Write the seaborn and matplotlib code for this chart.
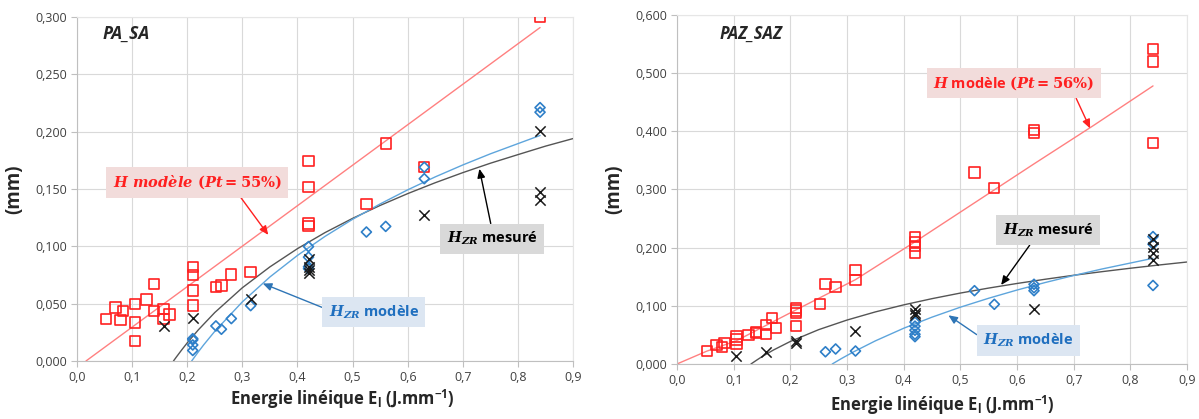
import numpy as np
import pandas as pd
import matplotlib
matplotlib.use("Agg")
import matplotlib.pyplot as plt
from matplotlib.ticker import FuncFormatter, MultipleLocator
import seaborn as sns

# ---- PA_SA (left) ----
pa_h_x = [0.0525, 0.07, 0.084, 0.079, 0.105, 0.105, 0.105, 0.126, 0.14, 0.14, 0.157, 0.157, 0.168,
          0.21, 0.21, 0.21, 0.21, 0.252, 0.262, 0.28, 0.315, 0.42, 0.42, 0.42, 0.42, 0.525, 0.56, 0.63, 0.84]
pa_h_y = [0.0365, 0.0466, 0.0437, 0.0358, 0.050, 0.0335, 0.0172, 0.0536, 0.0673, 0.0437, 0.0455, 0.0367, 0.0405,
          0.082, 0.0749, 0.0615, 0.0484, 0.0647, 0.0658, 0.0754, 0.0775, 0.1746, 0.152, 0.120, 0.118, 0.137, 0.1897, 0.169, 0.300]
pa_zrmod_x = [0.21, 0.21, 0.21, 0.21, 0.252, 0.262, 0.28, 0.315, 0.42, 0.42, 0.42, 0.42, 0.525, 0.56, 0.63, 0.63, 0.84, 0.84]
pa_zrmod_y = [0.0195, 0.0184, 0.0140, 0.0092, 0.0306, 0.0277, 0.0370, 0.0483, 0.0998, 0.0906, 0.0822, 0.0805,
              0.1125, 0.1174, 0.169, 0.159, 0.221, 0.217]
pa_zrmes_x = [0.157, 0.21, 0.315, 0.42, 0.42, 0.42, 0.42, 0.63, 0.84, 0.84, 0.84]
pa_zrmes_y = [0.0306, 0.0376, 0.0545, 0.089, 0.082, 0.079, 0.0767, 0.1276, 0.2004, 0.147, 0.1407]
# curves
pa_hline_x = [0.0163, 0.84]
pa_hline_y = [0.0, 0.2908]
pa_mesline_x = [0.175, 0.18, 0.19, 0.2, 0.22, 0.25, 0.3, 0.35, 0.4, 0.45, 0.5, 0.55, 0.6, 0.65, 0.7, 0.75, 0.8, 0.85, 0.9]
pa_mesline_y = [0.0, 0.0033, 0.0097, 0.0158, 0.0271, 0.0423, 0.0639, 0.0821, 0.098, 0.112, 0.1244, 0.1357, 0.146,
                0.1555, 0.1643, 0.1725, 0.180, 0.1874, 0.194]
pa_modline_x = [0.208, 0.21, 0.22, 0.23, 0.25, 0.3, 0.35, 0.4, 0.45, 0.5, 0.55, 0.6, 0.65, 0.7, 0.75, 0.84]
pa_modline_y = [0.0, 0.0013, 0.0079, 0.0142, 0.0259, 0.0516, 0.0733, 0.0921, 0.1087, 0.1236, 0.137, 0.1493,
                0.1606, 0.171, 0.1807, 0.1967]

# ---- PAZ_SAZ (right) ----
paz_h_x = [0.0525, 0.07, 0.079, 0.084, 0.105, 0.105, 0.105, 0.126, 0.14, 0.14, 0.157, 0.157, 0.168, 0.175,
           0.21, 0.21, 0.21, 0.21, 0.252, 0.262, 0.28, 0.315, 0.315, 0.42, 0.42, 0.42, 0.42,
           0.525, 0.56, 0.63, 0.63, 0.84, 0.84, 0.84]
paz_h_y = [0.022, 0.033, 0.029, 0.0355, 0.047, 0.042, 0.034, 0.050, 0.055, 0.053, 0.067, 0.052, 0.0796, 0.0624,
           0.0965, 0.092, 0.088, 0.065, 0.1026, 0.1375, 0.1324, 0.1616, 0.1444, 0.2178, 0.2103, 0.2029, 0.1913,
           0.329, 0.302, 0.402, 0.3966, 0.541, 0.520, 0.380]
paz_zrmod_x = [0.262, 0.28, 0.315, 0.42, 0.42, 0.42, 0.42, 0.42, 0.525, 0.56, 0.63, 0.63, 0.63, 0.84, 0.84, 0.84]
paz_zrmod_y = [0.021, 0.0258, 0.0223, 0.072, 0.065, 0.058, 0.051, 0.047, 0.126, 0.1026, 0.137, 0.131, 0.126,
               0.219, 0.206, 0.135]
paz_zrmes_x = [0.105, 0.157, 0.21, 0.21, 0.315, 0.42, 0.42, 0.42, 0.63, 0.84, 0.84, 0.84, 0.84]
paz_zrmes_y = [0.0143, 0.021, 0.0367, 0.039, 0.0567, 0.095, 0.0885, 0.085, 0.094, 0.214, 0.2017, 0.190, 0.179]
paz_hline_x = [0.0, 0.0525, 0.105, 0.21, 0.315, 0.42, 0.525, 0.63, 0.735, 0.84]
paz_hline_y = [0.0, 0.022, 0.040, 0.093, 0.145, 0.210, 0.277, 0.344, 0.410, 0.478]
paz_mesline_x = [0.1306, 0.14, 0.15, 0.17, 0.2, 0.25, 0.3, 0.35, 0.4, 0.45, 0.5, 0.55, 0.6, 0.65, 0.7, 0.75, 0.8, 0.85, 0.9]
paz_mesline_y = [0.0, 0.0062, 0.0126, 0.0239, 0.0387, 0.059, 0.0755, 0.0895, 0.1016, 0.1123, 0.1219, 0.1305,
                 0.1384, 0.1457, 0.1525, 0.1587, 0.1646, 0.1701, 0.1753]
paz_modline_x = [0.274, 0.29, 0.31, 0.35, 0.4, 0.45, 0.5, 0.55, 0.6, 0.65, 0.7, 0.75, 0.84]
paz_modline_y = [0.0, 0.0092, 0.020, 0.0397, 0.0614, 0.0805, 0.0976, 0.113, 0.1271, 0.1401, 0.1521, 0.1633, 0.1817]

RED = "#ff2020"
REDLINE = "#ff8080"
BLUE = "#2e7fc8"
BLUELINE = "#5ea5dc"
BLACK = "#1a1a1a"

sns.set_style("whitegrid", {"grid.color": "#d9d9d9", "axes.edgecolor": "#bfbfbf"})
plt.rcParams["font.family"] = ["Open Sans", "DejaVu Sans"]
plt.rcParams["mathtext.fontset"] = "custom"
plt.rcParams["mathtext.it"] = "DejaVu Serif:italic:bold"
plt.rcParams["mathtext.rm"] = "DejaVu Serif:bold"
plt.rcParams["mathtext.bf"] = "DejaVu Serif:bold"
plt.rcParams["mathtext.sf"] = "Open Sans:bold"

fig = plt.figure(figsize=(11.99, 4.19), dpi=100)
ax1 = fig.add_axes([0.0642, 0.1384, 0.4138, 0.821])
ax2 = fig.add_axes([0.5646, 0.1313, 0.4254, 0.833])


def draw_panel(ax, hx, hy, mx, my, ex, ey, hlx, hly, elx, ely, mlx, mly):
    sns.lineplot(x=hlx, y=hly, ax=ax, color=REDLINE, lw=1, sort=False, estimator=None)
    sns.lineplot(x=elx, y=ely, ax=ax, color="#555555", lw=1, sort=False, estimator=None)
    sns.lineplot(x=mlx, y=mly, ax=ax, color=BLUELINE, lw=1, sort=False, estimator=None)
    sns.scatterplot(x=hx, y=hy, ax=ax, marker="s", s=55, color=RED, facecolor="none",
                    edgecolor=RED, linewidth=1.2, zorder=3)
    sns.scatterplot(x=mx, y=my, ax=ax, marker="D", s=26, color=BLUE, facecolor="none",
                    edgecolor=BLUE, linewidth=1.2, zorder=4)
    sns.scatterplot(x=ex, y=ey, ax=ax, marker="x", s=55, color=BLACK, linewidth=1.1, zorder=5)
    ax.set_xlim(0, 0.9)
    ax.xaxis.set_major_locator(MultipleLocator(0.1))
    ax.xaxis.set_major_formatter(FuncFormatter(lambda v, p: f"{v:.1f}".replace(".", ",")))
    ax.yaxis.set_major_formatter(FuncFormatter(lambda v, p: f"{v:.3f}".replace(".", ",")))
    ax.tick_params(axis="both", labelsize=9, labelcolor="#404040", length=4, width=0.8,
                   color="#bfbfbf", direction="out", pad=3)
    ax.tick_params(left=True, bottom=True)
    ax.grid(True, color="#d9d9d9", lw=0.8)
    for side in ["top", "right"]:
        ax.spines[side].set_color("#e6e6e6")
    ax.set_xlabel(r"Energie linéique E$_\mathsf{l}$ (J.mm$^\mathsf{-1}$)", fontsize=12,
                  fontweight="bold")
    ax.set_ylabel("(mm)", fontsize=13.5, fontweight="bold", labelpad=8)


draw_panel(ax1, pa_h_x, pa_h_y, pa_zrmod_x, pa_zrmod_y, pa_zrmes_x, pa_zrmes_y,
           pa_hline_x, pa_hline_y, pa_mesline_x, pa_mesline_y, pa_modline_x, pa_modline_y)
ax1.set_ylim(0, 0.3)
ax1.yaxis.set_major_locator(MultipleLocator(0.05))
ax1.xaxis.set_label_coords(0.536, -0.076)

draw_panel(ax2, paz_h_x, paz_h_y, paz_zrmod_x, paz_zrmod_y, paz_zrmes_x, paz_zrmes_y,
           paz_hline_x, paz_hline_y, paz_mesline_x, paz_mesline_y, paz_modline_x, paz_modline_y)
ax2.set_ylim(0, 0.6)
ax2.yaxis.set_major_locator(MultipleLocator(0.1))
ax2.xaxis.set_label_coords(0.52, -0.086)

ax1.text(0.047, 0.285, "PA_SA", fontsize=12.5, fontweight="bold", style="italic", va="center")
ax2.text(0.076, 0.567, "PAZ_SAZ", fontsize=12, fontweight="bold", style="italic", va="center")


def label(ax, text, xy, xytext, fc, tc, ac, relpos):
    ax.annotate(text, xy=xy, xytext=xytext, ha="center", va="center", fontsize=10.5,
                fontweight="bold", color=tc, zorder=6,
                bbox=dict(boxstyle="square,pad=0.45", fc=fc, ec="none"),
                arrowprops=dict(arrowstyle="-|>,head_length=0.5,head_width=0.22", color=ac, lw=1,
                                shrinkA=0, shrinkB=0, relpos=relpos))


label(ax1, r"$H\ modèle\ (Pt = 55\%)$", (0.347, 0.110), (0.218, 0.156), "#f2dcdb", RED, RED, (0.73, 0.0))
label(ax1, r"$H_{ZR}$ mesuré", (0.730, 0.1676), (0.753, 0.1066), "#d9d9d9", "black", "black", (0.5, 1.0))
label(ax1, r"$H_{ZR}$ modèle", (0.337, 0.0676), (0.5385, 0.0426), "#dce6f2", "#1f6fbf", "#2e75b6", (0.0, 0.62))

label(ax2, r"$H$ modèle $(Pt = 56\%)$", (0.729, 0.405), (0.594, 0.483), "#f2dcdb", RED, RED, (0.87, 0.0))
label(ax2, r"$H_{ZR}$ mesuré", (0.572, 0.1358), (0.6547, 0.2304), "#d9d9d9", "black", "black", (0.35, 0.0))
label(ax2, r"$H_{ZR}$ modèle", (0.479, 0.0837), (0.620, 0.0404), "#dce6f2", "#1f6fbf", "#2e75b6", (0.0, 0.58))

fig.savefig("out.png", dpi=100)
